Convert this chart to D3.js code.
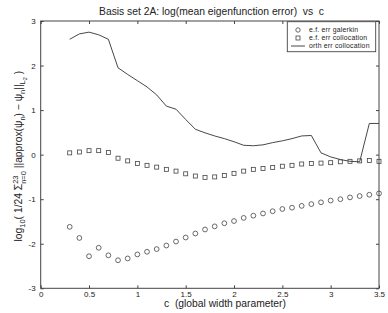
<!DOCTYPE html>
<html><head><meta charset="utf-8">
<script src="https://cdn.jsdelivr.net/npm/d3@7"></script>
<style>
body{margin:0;background:#fff;}
svg{display:block;font-family:"Liberation Sans",Arial,Helvetica,sans-serif;}
text{white-space:pre;}
</style></head>
<body><svg id="c" width="388" height="313"></svg>
<script>
const cValues = [0.3,0.4,0.5,0.6,0.7,0.8,0.9,1.0,1.1,1.2,1.3,1.4,1.5,1.6,1.7,1.8,1.9,2.0,2.1,2.2,2.3,2.4,2.5,2.6,2.7,2.8,2.9,3.0,3.1,3.2,3.3,3.4,3.5];
const galerkinErr = [-1.62,-1.87,-2.28,-2.09,-2.26,-2.37,-2.33,-2.24,-2.18,-2.12,-2.04,-1.95,-1.86,-1.77,-1.68,-1.61,-1.54,-1.49,-1.42,-1.37,-1.32,-1.27,-1.22,-1.19,-1.15,-1.11,-1.07,-1.03,-1.00,-0.96,-0.93,-0.90,-0.87];
const collocationErr = [0.04,0.06,0.09,0.09,0.05,-0.08,-0.14,-0.20,-0.24,-0.28,-0.33,-0.37,-0.43,-0.48,-0.51,-0.50,-0.47,-0.42,-0.37,-0.33,-0.31,-0.29,-0.26,-0.24,-0.21,-0.20,-0.19,-0.18,-0.16,-0.15,-0.14,-0.13,-0.15];
const orthErr = [2.59,2.71,2.75,2.69,2.59,1.95,1.80,1.66,1.52,1.34,1.09,1.02,0.79,0.57,0.49,0.42,0.36,0.29,0.21,0.20,0.22,0.27,0.31,0.36,0.42,0.43,0.04,-0.05,-0.11,-0.15,-0.16,0.70,0.70];
const xTicks = [0,0.5,1,1.5,2,2.5,3,3.5];
const yTicks = [-3,-2,-1,0,1,2,3];
const legendLabels = ["e.f. err galerkin","e.f. err collocation","orth err collocation"];
const titleText = "Basis set 2A: log(mean eigenfunction error)  vs  c";
const xLabelText = "c  (global width parameter)";

const svg = d3.select("#c");
const L = 40.7, R = 379, T = 21, B = 288.3;
const x = d3.scaleLinear().domain([0,3.5]).range([L,R]);
const y = d3.scaleLinear().domain([-3,3]).range([B,T]);
const axisColor = "#444";
const fmt = d => String(d);

// frame
svg.append("rect").attr("x",L).attr("y",T).attr("width",R-L).attr("height",B-T)
  .attr("fill","none").attr("stroke",axisColor).attr("stroke-width",1);

function styleAxis(g){
  g.select(".domain").remove();
  g.selectAll("line").attr("stroke",axisColor);
  g.selectAll("text").attr("fill","#222").style("font-size","8px").style("font-family","'Liberation Sans',Arial,sans-serif");
}
svg.append("g").attr("transform",`translate(0,${B})`)
  .call(d3.axisBottom(x).tickValues(xTicks).tickFormat(fmt).tickSize(-3).tickPadding(3))
  .call(styleAxis);
svg.append("g").attr("transform",`translate(0,${T})`)
  .call(d3.axisTop(x).tickValues(xTicks).tickFormat("").tickSize(-3))
  .call(styleAxis);
svg.append("g").attr("transform",`translate(${L},0)`)
  .call(d3.axisLeft(y).tickValues(yTicks).tickFormat(fmt).tickSize(-3).tickPadding(5))
  .call(styleAxis);
svg.append("g").attr("transform",`translate(${R},0)`)
  .call(d3.axisRight(y).tickValues(yTicks).tickFormat("").tickSize(-3))
  .call(styleAxis);

const markColor = "#444";
// orth line
svg.append("path").datum(cValues.map((c,i)=>[c,orthErr[i]]))
  .attr("d", d3.line().x(d=>x(d[0])).y(d=>y(d[1])))
  .attr("fill","none").attr("stroke","#333").attr("stroke-width",0.9);
// squares
svg.append("g").selectAll("rect").data(cValues.map((c,i)=>[c,collocationErr[i]])).join("rect")
  .attr("x",d=>x(d[0])-2).attr("y",d=>y(d[1])-2).attr("width",4).attr("height",4)
  .attr("fill","none").attr("stroke",markColor).attr("stroke-width",0.8);
// circles
svg.append("g").selectAll("circle").data(cValues.map((c,i)=>[c,galerkinErr[i]])).join("circle")
  .attr("cx",d=>x(d[0])).attr("cy",d=>y(d[1])).attr("r",2.4)
  .attr("fill","none").attr("stroke",markColor).attr("stroke-width",0.8);

// legend
const lg = svg.append("g");
lg.append("rect").attr("x",287.3).attr("y",21.7).attr("width",88.4).attr("height",30)
  .attr("fill","#fff").attr("stroke",axisColor).attr("stroke-width",0.9);
const ly = [30.0,38.0,46.0];
lg.append("circle").attr("cx",298).attr("cy",ly[0]).attr("r",2.2).attr("fill","none").attr("stroke",markColor).attr("stroke-width",0.8);
lg.append("rect").attr("x",296).attr("y",ly[1]-2).attr("width",4).attr("height",4).attr("fill","none").attr("stroke",markColor).attr("stroke-width",0.8);
lg.append("line").attr("x1",291).attr("x2",305).attr("y1",ly[2]).attr("y2",ly[2]).attr("stroke","#333").attr("stroke-width",0.9);
legendLabels.forEach((t,i)=>{
  lg.append("text").attr("x",309).attr("y",ly[i]).attr("dy","0.35em")
    .style("font-size","6.9px").style("letter-spacing","0.2px").attr("fill","#222").text(t);
});

// title
svg.append("text").attr("x",211.5).attr("y",15).attr("text-anchor","middle")
  .style("font-size","10.3px").attr("fill","#222").text(titleText);
// x label
svg.append("text").attr("x",225).attr("y",307).attr("text-anchor","middle")
  .style("font-size","10.3px").attr("fill","#222").text(xLabelText);

// y label with math
const fs = 10.3;
const yl = svg.append("text").attr("transform","translate(22,152) rotate(-90)")
  .attr("text-anchor","start").style("font-size",fs+"px").attr("fill","#222");
function part(txt, opts={}){
  const t = yl.append("tspan").text(txt);
  if(opts.size) t.style("font-size",opts.size+"px");
  if(opts.dy!==undefined) t.attr("dy",opts.dy);
  if(opts.dx!==undefined) t.attr("dx",opts.dx);
  return t;
}
part("log");
part("10",{size:7.5,dy:3});
part("( 1/24 ",{dy:-3});
part("\u03A3",{});
const sup = part("23",{size:7.5,dy:-4.5});
const supW = sup.node().getComputedTextLength();
part("n=0",{size:7.5,dy:8.5,dx:-supW});
part(" ||approx(\u03C8",{dy:-4});
part("n",{size:7.5,dy:3});
part(") \u2212 \u03C8",{dy:-3});
part("n",{size:7.5,dy:3});
part("||",{dy:-3});
part("L",{size:7.5,dy:3});
part("2",{size:5.5,dy:2});
part(" )",{dy:-5});
// center label along axis
const len = yl.node().getComputedTextLength();
yl.attr("transform",`translate(22,${152+len/2}) rotate(-90)`);
</script></body></html>
